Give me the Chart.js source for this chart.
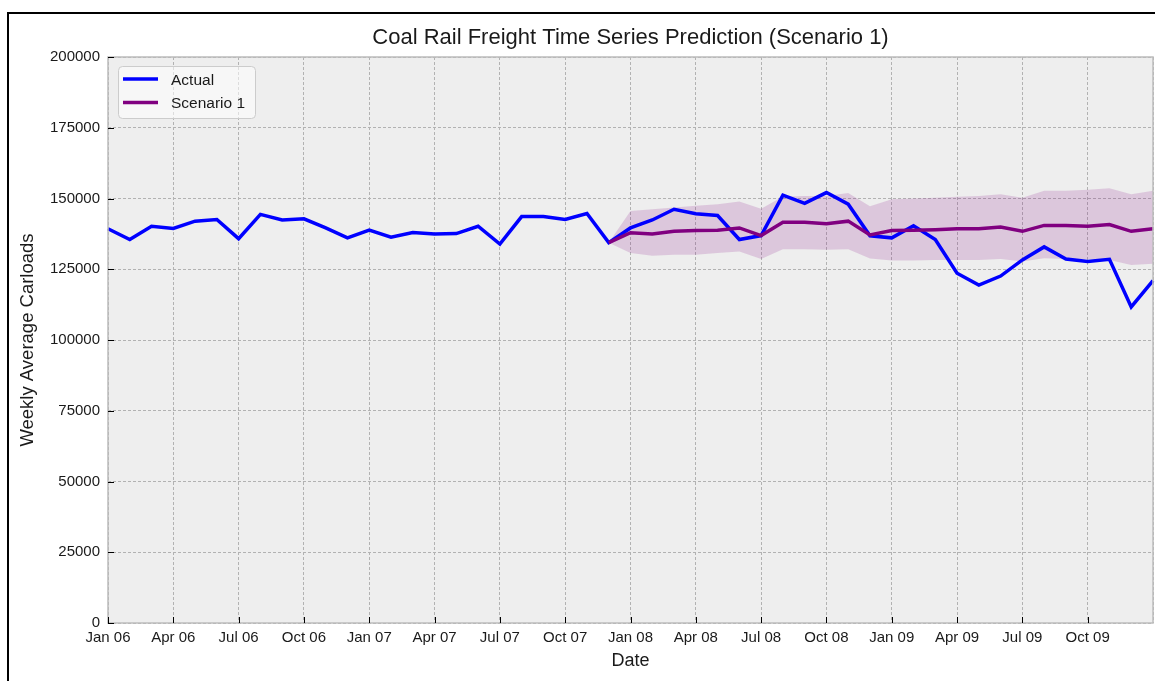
<!DOCTYPE html>
<html>
<head>
<meta charset="utf-8">
<title>Coal Rail Freight Time Series Prediction (Scenario 1)</title>
<script src="https://cdn.jsdelivr.net/npm/chart.js@4.4.1/dist/chart.umd.min.js"></script>
<style>
  html, body { margin: 0; padding: 0; background: #fff; }
  #wrap { position: relative; width: 1155px; height: 681px; }
</style>
</head>
<body>
<div id="wrap"><canvas id="freightChart" width="1155" height="681"></canvas></div>
<script>
// Monthly points, Jan 06 .. Jan 10
const monthLabels = [
    'Jan 06', 'Feb 06', 'Mar 06', 'Apr 06', 'May 06', 'Jun 06', 'Jul 06', 'Aug 06', 'Sep 06', 'Oct 06', 'Nov 06', 'Dec 06',
    'Jan 07', 'Feb 07', 'Mar 07', 'Apr 07', 'May 07', 'Jun 07', 'Jul 07', 'Aug 07', 'Sep 07', 'Oct 07', 'Nov 07', 'Dec 07',
    'Jan 08', 'Feb 08', 'Mar 08', 'Apr 08', 'May 08', 'Jun 08', 'Jul 08', 'Aug 08', 'Sep 08', 'Oct 08', 'Nov 08', 'Dec 08',
    'Jan 09', 'Feb 09', 'Mar 09', 'Apr 09', 'May 09', 'Jun 09', 'Jul 09', 'Aug 09', 'Sep 09', 'Oct 09', 'Nov 09', 'Dec 09',
    'Jan 10'
];

const actualCarloads = [
    139300, 135500, 140200, 139400, 142000, 142600, 135800, 144400, 142400, 142800, 139600, 136100,
    138800, 136300, 138000, 137500, 137600, 140200, 133900, 143600, 143600, 142600, 144700, 134400,
    139600, 142400, 146200, 144600, 144000, 135500, 136900, 151200, 148300, 152100, 148000, 136800,
    136100, 140400, 135500, 123600, 119400, 122600, 128300, 132900, 128600, 127700, 128500, 111700,
    121000
];

// forecast begins at Dec 07 (index 23)
const forecastStart = 23;
const scenarioCarloads = [
    134400, 137900, 137500, 138400, 138700, 138800, 139600, 136900, 141600, 141600, 141100, 142000, 137100,
    138700, 138800, 139000, 139300, 139300, 139900, 138400, 140500, 140500, 140200, 140800, 138400, 139300
];
const scenarioUpper = [
    134400, 145600, 146200, 146800, 147400, 148000, 148900, 146400, 150700, 150900, 150900, 151900, 147300,
    149700, 150000, 150300, 150600, 150900, 151500, 150300, 152700, 152700, 153100, 153600, 151500, 152700
];
const scenarioLower = [
    134400, 130700, 129800, 130100, 130100, 130700, 131300, 128600, 132100, 132100, 131900, 132100, 128800,
    128100, 128100, 128300, 128300, 128300, 128600, 127700, 128900, 128600, 128600, 128300, 126500, 126900
];

const FONT = "'Liberation Sans', Arial, Helvetica, sans-serif";
const TEXT_COLOR = '#1a1a1a';

function padForecast(values) {
    return Array(forecastStart).fill(null).concat(values);
}

// white page + black frame + grey plot background
const backdrop = {
    id: 'backdrop',
    beforeDraw(chart) {
        const { ctx, chartArea: a } = chart;
        ctx.save();
        ctx.fillStyle = '#ffffff';
        ctx.fillRect(0, 0, chart.width, chart.height);
        ctx.strokeStyle = '#000000';
        ctx.lineWidth = 2;
        ctx.strokeRect(8, 13, chart.width + 20, chart.height + 20);
        ctx.fillStyle = '#eeeeee';
        ctx.fillRect(a.left, a.top, a.right - a.left, a.bottom - a.top);
        ctx.restore();
    }
};

// title, plot border, inward ticks, legend box
const overlay = {
    id: 'overlay',
    afterDraw(chart) {
        const { ctx, chartArea: a } = chart;
        const xScale = chart.scales.x;
        const yScale = chart.scales.y;
        ctx.save();

        ctx.fillStyle = TEXT_COLOR;
        ctx.font = `22px ${FONT}`;
        ctx.textAlign = 'center';
        ctx.textBaseline = 'middle';
        ctx.fillText('Coal Rail Freight Time Series Prediction (Scenario 1)', (a.left + a.right) / 2, 38);

        ctx.strokeStyle = '#bcbcbc';
        ctx.lineWidth = 1.5;
        ctx.strokeRect(a.left, a.top, a.right - a.left, a.bottom - a.top);

        ctx.strokeStyle = '#000000';
        ctx.lineWidth = 1;
        xScale.ticks.forEach((t, i) => {
            if (i % 3 !== 0 || i === monthLabels.length - 1) return;
            const px = Math.round(xScale.getPixelForTick(i)) + 0.5;
            ctx.beginPath();
            ctx.moveTo(px, a.bottom);
            ctx.lineTo(px, a.bottom - 6);
            ctx.stroke();
        });
        yScale.ticks.forEach((t, i) => {
            const py = Math.round(yScale.getPixelForTick(i)) + 0.5;
            ctx.beginPath();
            ctx.moveTo(a.left, py);
            ctx.lineTo(a.left + 6, py);
            ctx.stroke();
        });

        // legend
        const items = chart.data.datasets.filter(d => d.showInLegend);
        const bx = a.left + 10, by = a.top + 9, bw = 137, bh = 52;
        ctx.fillStyle = 'rgba(255,255,255,0.55)';
        ctx.strokeStyle = '#cccccc';
        ctx.lineWidth = 1;
        ctx.beginPath();
        ctx.roundRect(bx + 0.5, by + 0.5, bw, bh, 4);
        ctx.fill();
        ctx.stroke();
        ctx.font = `15.5px ${FONT}`;
        ctx.textAlign = 'left';
        ctx.textBaseline = 'middle';
        items.forEach((d, i) => {
            const cy = by + 13 + i * 23.5;
            ctx.strokeStyle = d.borderColor;
            ctx.lineWidth = 3.5;
            ctx.beginPath();
            ctx.moveTo(bx + 5, cy);
            ctx.lineTo(bx + 40, cy);
            ctx.stroke();
            ctx.fillStyle = TEXT_COLOR;
            ctx.fillText(d.label, bx + 53, cy + 1.5);
        });
        ctx.restore();
    }
};

const ctx = document.getElementById('freightChart').getContext('2d');
const freightChart = new Chart(ctx, {
    type: 'line',
    data: {
        labels: monthLabels,
        datasets: [
            {
                label: 'Actual',
                data: actualCarloads,
                borderColor: '#0000ff',
                borderWidth: 3.5,
                pointRadius: 0,
                tension: 0,
                fill: false,
                order: 1,
                showInLegend: true
            },
            {
                label: 'Scenario 1',
                data: padForecast(scenarioCarloads),
                borderColor: '#800080',
                borderWidth: 3.5,
                pointRadius: 0,
                tension: 0,
                fill: false,
                order: 0,
                showInLegend: true
            },
            {
                label: 'upper',
                data: padForecast(scenarioUpper),
                borderWidth: 0,
                borderColor: 'rgba(0,0,0,0)',
                backgroundColor: 'rgba(128,0,128,0.16)',
                pointRadius: 0,
                tension: 0,
                fill: '+1',
                order: 2
            },
            {
                label: 'lower',
                data: padForecast(scenarioLower),
                borderWidth: 0,
                borderColor: 'rgba(0,0,0,0)',
                pointRadius: 0,
                tension: 0,
                fill: false,
                order: 3
            }
        ]
    },
    options: {
        responsive: false,
        animation: false,
        layout: {
            padding: { left: 0, right: 2, top: 57, bottom: 0 }
        },
        plugins: {
            legend: { display: false },
            title: { display: false },
            tooltip: { enabled: false }
        },
        scales: {
            x: {
                type: 'category',
                offset: false,
                afterFit(scale) {
                    scale.height = 58;
                    scale.paddingLeft = 0;
                    scale.paddingRight = 0;
                },
                grid: {
                    drawTicks: false,
                    lineWidth: 1,
                    color: c => (c.index % 3 === 0 ? '#b2b2b2' : 'rgba(0,0,0,0)')
                },
                border: { display: false, dash: [3, 2] },
                ticks: {
                    autoSkip: false,
                    maxRotation: 0,
                    padding: 6,
                    color: TEXT_COLOR,
                    font: { family: FONT, size: 15 },
                    callback: (v, i) => (i % 3 === 0 && i < monthLabels.length - 1 ? monthLabels[i] : '')
                },
                title: {
                    display: true,
                    text: 'Date',
                    color: TEXT_COLOR,
                    font: { family: FONT, size: 18 },
                    padding: { top: 0, bottom: 9 }
                }
            },
            y: {
                min: 0,
                max: 200000,
                afterFit(scale) { scale.width = 108; },
                grid: {
                    drawTicks: false,
                    lineWidth: 1,
                    color: '#b2b2b2'
                },
                border: { display: false, dash: [3, 2] },
                ticks: {
                    stepSize: 25000,
                    padding: 8,
                    color: TEXT_COLOR,
                    font: { family: FONT, size: 15 },
                    callback: v => String(v)
                },
                title: {
                    display: true,
                    text: 'Weekly Average Carloads',
                    color: TEXT_COLOR,
                    font: { family: FONT, size: 18.5 },
                    padding: { top: 17, bottom: 0 }
                }
            }
        }
    },
    plugins: [backdrop, overlay]
});
</script>
</body>
</html>
